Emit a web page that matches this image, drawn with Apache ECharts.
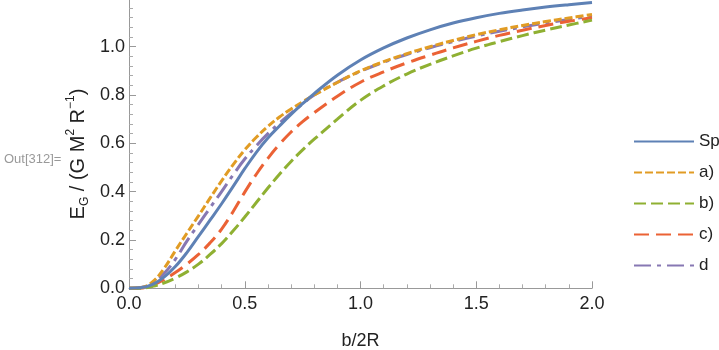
<!DOCTYPE html>
<html>
<head>
<meta charset="utf-8">
<script src="https://cdn.jsdelivr.net/npm/echarts@6/dist/echarts.min.js"></script>
<style>html,body{margin:0;padding:0;background:#fff}#c{width:719px;height:350px}</style>
</head>
<body>
<div id="c"></div>
<script>
const xs = [0,0.05,0.1,0.15,0.2,0.25,0.3,0.35,0.4,0.45,0.5,0.55,0.6,0.65,0.7,0.75,0.8,0.9,1.0,1.1,1.2,1.3,1.4,1.5,1.6,1.7,1.8,1.9,2.0];
const seriesNames = ['Sp','a)','b)','c)','d'];
const sp = [0,0.002,0.015,0.045,0.09,0.148,0.215,0.282,0.35,0.422,0.495,0.563,0.622,0.672,0.72,0.764,0.806,0.882,0.945,0.995,1.036,1.07,1.098,1.12,1.138,1.152,1.164,1.174,1.183];
const a = [0,0.002,0.025,0.08,0.155,0.228,0.3,0.373,0.445,0.512,0.573,0.625,0.67,0.709,0.742,0.772,0.8,0.852,0.9,0.938,0.971,1.0,1.026,1.05,1.07,1.088,1.104,1.119,1.133];
const b = [0,0,0.008,0.022,0.042,0.068,0.1,0.14,0.185,0.238,0.295,0.355,0.415,0.472,0.525,0.573,0.617,0.7,0.778,0.838,0.887,0.927,0.962,0.994,1.021,1.046,1.069,1.09,1.11];
const c = [0,0.001,0.012,0.035,0.065,0.1,0.14,0.188,0.245,0.318,0.398,0.472,0.538,0.596,0.647,0.69,0.727,0.795,0.853,0.896,0.933,0.965,0.995,1.022,1.047,1.068,1.088,1.105,1.12];
const d = [0,0.003,0.02,0.06,0.12,0.195,0.265,0.333,0.4,0.47,0.535,0.59,0.64,0.684,0.725,0.764,0.8,0.853,0.898,0.936,0.968,0.996,1.021,1.044,1.064,1.082,1.098,1.113,1.127];
const xTicks = [0,0.5,1.0,1.5,2.0];
const yTicks = [0,0.2,0.4,0.6,0.8,1.0];

const values = [sp,a,b,c,d];
const colors = ['#5E81B5','#E19C24','#8FB032','#EB6235','#8778B3'];
const dashes = ['solid',[8,3],[12,5],[15,7],[17,6,4,6]];

const chart = echarts.init(document.getElementById('c'), null, {renderer:'canvas'});
const font = "'Liberation Sans', Arial, sans-serif";
const series = seriesNames.map((n,i)=>({
  name:n, type:'line', symbol:'none', smooth:0.4, clip:false,
  data: xs.map((x,j)=>[x, values[i][j]]),
  lineStyle:{color:colors[i], width:3, type:dashes[i], cap:'butt'},
  itemStyle:{color:colors[i]},
  z: 10 - i
}));
chart.setOption({
  animation:false,
  backgroundColor:'#fff',
  textStyle:{fontFamily:font},
  grid:{left:129, width:463, top:-1.6, height:289.9, containLabel:false, outerBoundsMode:'none'},
  legend:{
    orient:'vertical', left:628, top:128, itemWidth:60, itemHeight:14, itemGap:14,
    itemStyle:{opacity:0},
    textStyle:{fontSize:17, color:'#222', fontFamily:font},
    data:seriesNames
  },
  xAxis:{
    type:'value', min:0, max:2, interval:0.5,
    name:'b/2R', nameLocation:'middle', nameGap:44,
    nameTextStyle:{fontSize:18, color:'#222', fontFamily:font},
    axisLine:{lineStyle:{color:'#999', width:1}},
    axisTick:{inside:true, length:7, lineStyle:{color:'#999'}},
    minorTick:{show:true, splitNumber:5, length:4, lineStyle:{color:'#aaa'}},
    axisLabel:{fontSize:18, color:'#222', margin:7, fontFamily:font, formatter:v=>xTicks.includes(v)?v.toFixed(1):''},
    splitLine:{show:false}
  },
  yAxis:{
    type:'value', min:0, max:1.2, interval:0.2,
    axisLine:{show:true, lineStyle:{color:'#999', width:1}},
    axisTick:{show:true, inside:true, length:7, lineStyle:{color:'#999'}},
    minorTick:{show:true, splitNumber:5, length:4, lineStyle:{color:'#aaa'}},
    axisLabel:{fontSize:18, color:'#222', margin:4, fontFamily:font, showMaxLabel:false, formatter:v=>yTicks.some(t=>Math.abs(t-v)<1e-9)?v.toFixed(1):''},
    splitLine:{show:false}
  },
  graphic:[
    {type:'text', x:78, y:154, rotation:Math.PI/2, style:{
      text:'{n|E}{s|G}{n| / (G M}{p|2}{n| R}{p|−1}{n|)}',
      align:'center', verticalAlign:'middle', fill:'#222', fontFamily:font,
      rich:{
        n:{fontSize:20, fill:'#222', fontFamily:font, lineHeight:26},
        s:{fontSize:12, fill:'#222', fontFamily:font, verticalAlign:'bottom', lineHeight:26, padding:[6,0,0,0]},
        p:{fontSize:12, fill:'#222', fontFamily:font, verticalAlign:'top', lineHeight:26, padding:[0,0,9,0]}
      }
    }},
    {type:'text', x:4, y:159, style:{text:'Out[312]=', fontSize:13, fill:'#999', fontFamily:font, verticalAlign:'middle'}}
  ],
  series
});
</script>
</body>
</html>
